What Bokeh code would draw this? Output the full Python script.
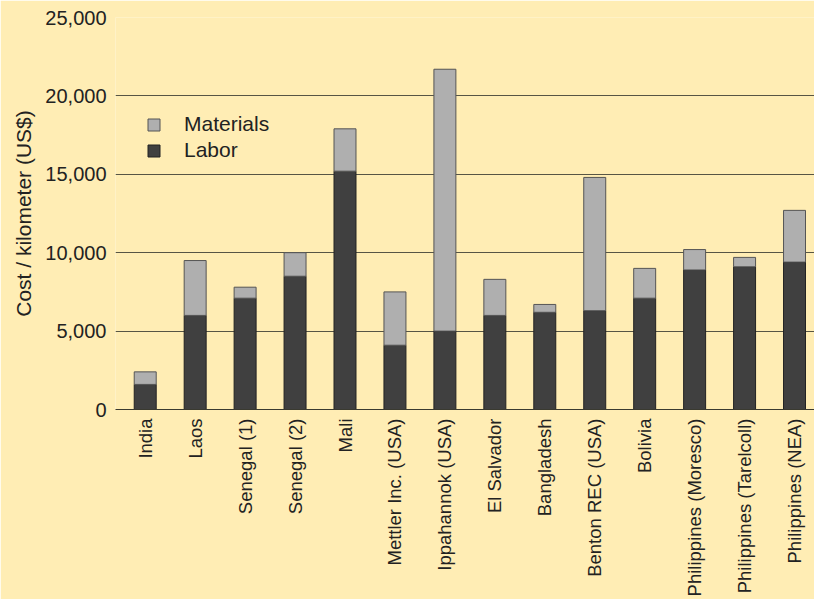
from bokeh.plotting import figure
from bokeh.models import (ColumnDataSource, Range1d, FixedTicker, NumeralTickFormatter,
                          Legend, LegendItem)
from bokeh.embed import file_html
from bokeh.resources import INLINE
import math

categories = ["India", "Laos", "Senegal (1)", "Senegal (2)", "Mali", "Mettler Inc. (USA)",
              "Ippahannok (USA)", "El Salvador", "Bangladesh", "Benton REC (USA)", "Bolivia",
              "Philippines (Moresco)", "Philippines (Tarelcoll)", "Philippines (NEA)"]
labor = [1600, 6000, 7100, 8500, 15200, 4100, 5000, 6000, 6200, 6300, 7100, 8900, 9100, 9400]
materials = [800, 3500, 700, 1500, 2700, 3400, 16700, 2300, 500, 8500, 1900, 1300, 600, 3300]
y_ticks = [0, 5000, 10000, 15000, 20000, 25000]

BG = "#FFEDB4"
FONT = "Liberation Sans"

xs = list(range(len(categories)))
source = ColumnDataSource(dict(x=xs, labor=labor, materials=materials))

p = figure(width=814, height=599, output_backend="svg", toolbar_location=None,
           x_range=Range1d(-0.595, 13.40), y_range=Range1d(0, 25000),
           min_border_left=115, min_border_right=0, min_border_top=17, min_border_bottom=190)
p.background_fill_color = BG
p.border_fill_color = BG
p.outline_line_color = None

r = p.vbar_stack(["labor", "materials"], x="x", width=0.44, source=source,
                 fill_color=["#404040", "#AFAFAF"], line_color=["#222222", "#555555"],
                 line_width=1)

p.xgrid.visible = False
p.ygrid.ticker = FixedTicker(ticks=y_ticks)
p.ygrid.grid_line_color = "#3a3a30"
p.ygrid.grid_line_alpha = 0.85
p.ygrid.grid_line_width = 1

p.yaxis.ticker = FixedTicker(ticks=y_ticks)
p.yaxis.formatter = NumeralTickFormatter(format="0,0")
p.yaxis.axis_line_color = None
p.yaxis.major_tick_line_color = None
p.yaxis.minor_tick_line_color = None
p.yaxis.major_label_text_font = FONT
p.yaxis.major_label_text_font_size = "20px"
p.yaxis.major_label_text_color = "#222222"
p.yaxis.major_label_standoff = 3
p.yaxis.axis_label = "Cost / kilometer (US$)"
p.yaxis.axis_label_text_font = FONT
p.yaxis.axis_label_text_font_size = "21px"
p.yaxis.axis_label_text_font_style = "normal"
p.yaxis.axis_label_text_color = "#222222"
p.yaxis.axis_label_standoff = 7

p.xaxis.ticker = FixedTicker(ticks=xs)
p.xaxis.major_label_overrides = {i: c for i, c in zip(xs, categories)}
p.xaxis.major_label_orientation = math.pi / 2
p.xaxis.axis_line_color = "#3a3a30"
p.xaxis.major_tick_line_color = None
p.xaxis.minor_tick_line_color = None
p.xaxis.major_label_text_font = FONT
p.xaxis.major_label_text_font_size = "18.5px"
p.xaxis.major_label_text_color = "#222222"
p.xaxis.major_label_standoff = 3

legend = Legend(items=[LegendItem(label="Materials", renderers=[r[1]]),
                       LegendItem(label="Labor", renderers=[r[0]])],
                location=(31, 247))
legend.background_fill_alpha = 0
legend.border_line_color = None
legend.padding = 0
legend.margin = 0
legend.glyph_width = 15
legend.glyph_height = 15
legend.label_height = 15
legend.spacing = 2
legend.label_standoff = 23
legend.label_text_font = FONT
legend.label_text_font_size = "21px"
legend.label_text_color = "#222222"
p.add_layout(legend, "center")

open("out.html", "w").write(file_html(p, INLINE))
